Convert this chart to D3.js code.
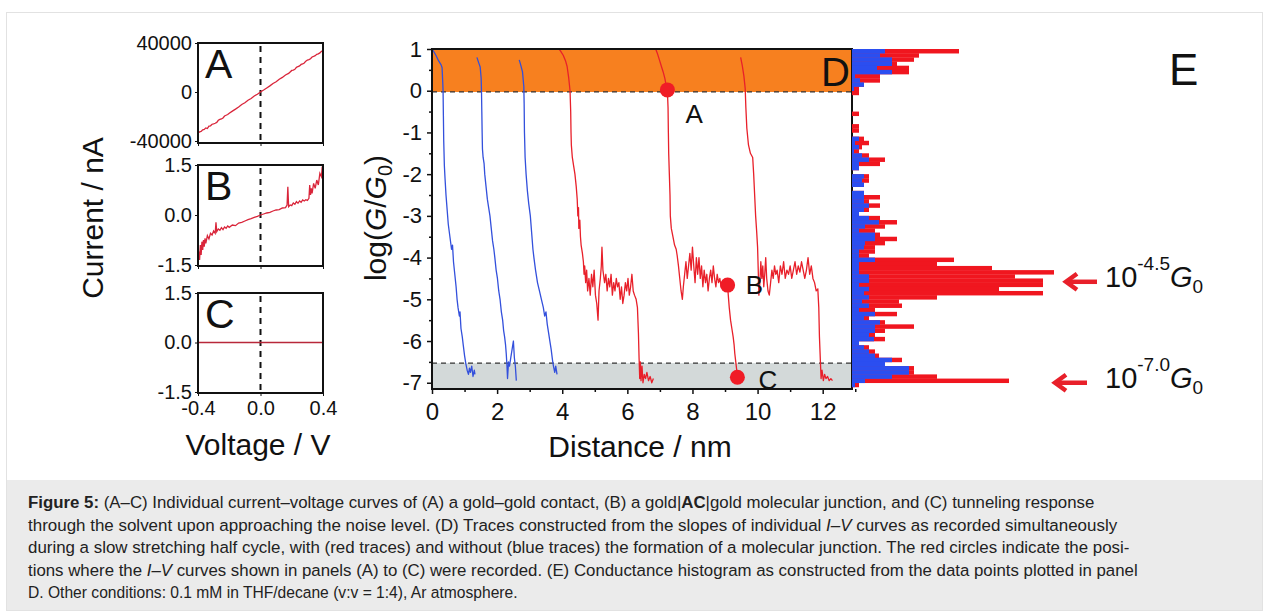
<!DOCTYPE html>
<html><head><meta charset="utf-8">
<script src="https://cdn.jsdelivr.net/npm/d3@7"></script>
<style>
html,body{margin:0;padding:0;background:#fff;}
svg{display:block;font-family:"Liberation Sans",Arial,sans-serif;}
</style></head><body>
<svg id="chart" width="1265" height="612"></svg>
<script>
// ---------------- DATA ----------------
// Panel A: gold-gold contact, current (nA) vs voltage (V)
const ivA = [[-0.4,-33500],[-0.39,-32600],[-0.38,-32200],[-0.37,-30900],[-0.36,-30600],[-0.35,-29300],[-0.34,-29800],[-0.33,-27900],[-0.32,-27600],[-0.31,-26300],[-0.30,-26000],[-0.29,-25500],[-0.28,-24800],[-0.27,-23100],[-0.26,-22400],[-0.25,-22000],[-0.24,-21200],[-0.23,-19600],[-0.22,-19000],[-0.21,-18400],[-0.20,-17300],[-0.18,-15600],[-0.16,-14000],[-0.14,-12300],[-0.12,-10200],[-0.10,-8800],[-0.08,-6700],[-0.06,-5300],[-0.04,-3200],[-0.02,-1800],[0,0],[0.02,1600],[0.04,3300],[0.06,5000],[0.08,6900],[0.10,8300],[0.12,10400],[0.14,11900],[0.16,13900],[0.18,15200],[0.20,17600],[0.21,17900],[0.22,18500],[0.23,20100],[0.24,20800],[0.25,21300],[0.26,22500],[0.27,22900],[0.28,23700],[0.29,25200],[0.30,26100],[0.31,26400],[0.32,27200],[0.33,28600],[0.34,29000],[0.35,29700],[0.36,30800],[0.37,31100],[0.38,31900],[0.39,33200],[0.40,33500]];
// Panel B: gold|AC|gold junction
const ivB = [[-0.40,-1.45],[-0.395,-1.1],[-0.39,-1.35],[-0.385,-0.9],[-0.38,-1.2],[-0.375,-0.8],[-0.37,-1.05],[-0.365,-0.75],[-0.36,-0.95],[-0.355,-0.7],[-0.35,-0.85],[-0.34,-0.62],[-0.33,-0.72],[-0.32,-0.55],[-0.31,-0.6],[-0.30,-0.48],[-0.29,-0.55],[-0.285,-0.22],[-0.28,-0.5],[-0.27,-0.42],[-0.26,-0.46],[-0.25,-0.38],[-0.24,-0.44],[-0.23,-0.36],[-0.22,-0.4],[-0.21,-0.33],[-0.20,-0.37],[-0.18,-0.3],[-0.16,-0.32],[-0.14,-0.24],[-0.12,-0.22],[-0.10,-0.18],[-0.08,-0.14],[-0.06,-0.11],[-0.04,-0.07],[-0.02,-0.04],[0,0],[0.02,0.03],[0.04,0.06],[0.06,0.08],[0.08,0.12],[0.10,0.15],[0.12,0.16],[0.14,0.21],[0.16,0.22],[0.17,0.3],[0.175,0.85],[0.18,0.25],[0.19,0.3],[0.20,0.28],[0.21,0.36],[0.22,0.32],[0.23,0.4],[0.24,0.35],[0.25,0.42],[0.26,0.38],[0.27,0.45],[0.28,0.42],[0.29,0.46],[0.30,0.44],[0.31,0.5],[0.315,0.9],[0.32,0.6],[0.325,0.8],[0.33,0.65],[0.34,0.95],[0.35,0.8],[0.36,1.05],[0.37,0.9],[0.38,1.25],[0.39,1.15],[0.395,1.45],[0.40,1.35]];
// Panel C: tunneling through solvent
const ivC = [[-0.4,0],[-0.2,0],[0,0],[0.2,0],[0.4,0]];
const ivTicksA = [-40000, 0, 40000];
const ivTicksBC = [-1.5, 0, 1.5];
const voltTicks = [-0.4, 0, 0.4];

// Panel D: log(G/G0) vs distance (nm)
const blueTrace1 = [[0.03,0.97],[0.12,0.85],[0.2,0.72],[0.28,0.62],[0.31,0.55],[0.33,0.2],[0.34,0.0],[0.35,-0.6],[0.36,-1.2],[0.38,-1.8],[0.40,-2.1],[0.43,-2.5],[0.47,-2.9],[0.50,-3.2],[0.55,-3.5],[0.60,-3.8],[0.63,-3.7],[0.66,-4.1],[0.70,-4.4],[0.74,-4.7],[0.77,-5.0],[0.80,-5.2],[0.84,-5.4],[0.86,-5.3],[0.89,-5.7],[0.93,-5.9],[0.96,-6.1],[1.0,-6.35],[1.04,-6.55],[1.08,-6.7],[1.12,-6.8],[1.15,-6.65],[1.18,-6.75],[1.22,-6.6],[1.26,-6.85],[1.30,-6.7],[1.32,-6.8]];
const blueTrace2 = [[1.38,0.8],[1.43,0.68],[1.48,0.57],[1.51,0.3],[1.52,0.0],[1.53,-0.5],[1.54,-1.0],[1.55,-1.4],[1.57,-1.6],[1.60,-1.75],[1.62,-2.0],[1.66,-2.3],[1.70,-2.6],[1.74,-2.8],[1.78,-3.0],[1.82,-3.3],[1.86,-3.6],[1.90,-3.8],[1.93,-4.0],[1.97,-4.3],[2.01,-4.5],[2.05,-4.8],[2.09,-5.0],[2.13,-5.3],[2.17,-5.5],[2.20,-5.75],[2.23,-5.9],[2.26,-6.1],[2.28,-6.3],[2.30,-6.55],[2.32,-6.9],[2.35,-6.5],[2.38,-6.6],[2.42,-6.4],[2.46,-6.2],[2.50,-6.0],[2.53,-6.4],[2.56,-6.6],[2.59,-6.95]];
const blueTrace3 = [[2.68,0.74],[2.73,0.6],[2.78,0.45],[2.82,0.1],[2.83,-0.3],[2.84,-1.0],[2.86,-1.6],[2.89,-2.0],[2.93,-2.4],[2.97,-2.7],[3.02,-3.0],[3.06,-3.4],[3.10,-3.8],[3.13,-4.0],[3.18,-4.3],[3.24,-4.6],[3.30,-4.8],[3.36,-5.0],[3.42,-5.2],[3.46,-5.4],[3.50,-5.3],[3.54,-5.6],[3.58,-5.8],[3.62,-6.0],[3.66,-6.2],[3.70,-6.45],[3.73,-6.6],[3.77,-6.75],[3.80,-6.6],[3.84,-6.8]];
const redTrace1 = [[3.88,1.02],[3.95,0.95],[4.03,0.85],[4.10,0.72],[4.15,0.58],[4.20,0.3],[4.24,0.0],[4.26,-0.5],[4.27,-1.0],[4.28,-1.3],[4.31,-1.6],[4.35,-1.8],[4.39,-2.0],[4.43,-2.3],[4.46,-2.6],[4.48,-3.0],[4.50,-2.8],[4.51,-3.3],[4.54,-3.1],[4.56,-3.5],[4.58,-3.7],[4.62,-3.9],[4.65,-4.1],[4.67,-4.4],[4.69,-4.2],[4.72,-4.6],[4.75,-4.3],[4.78,-4.8],[4.82,-4.5],[4.86,-4.9],[4.90,-4.4],[4.94,-4.7],[4.98,-4.3],[5.02,-4.9],[5.06,-5.1],[5.10,-5.5],[5.13,-4.8],[5.17,-4.5],[5.20,-4.2],[5.22,-3.75],[5.25,-4.3],[5.30,-4.6],[5.34,-4.4],[5.38,-4.8],[5.42,-4.5],[5.46,-4.7],[5.50,-4.4],[5.54,-4.9],[5.58,-4.6],[5.62,-4.8],[5.66,-4.5],[5.70,-4.7],[5.74,-4.6],[5.78,-5.0],[5.82,-4.7],[5.86,-5.1],[5.90,-4.9],[5.94,-4.6],[5.98,-4.8],[6.02,-4.5],[6.06,-4.9],[6.10,-4.7],[6.14,-4.4],[6.18,-4.8],[6.22,-4.9],[6.27,-5.0],[6.31,-5.2],[6.34,-5.8],[6.36,-6.4],[6.38,-6.9],[6.40,-6.5],[6.42,-6.95],[6.45,-6.6],[6.48,-7.0],[6.52,-6.8],[6.56,-6.9],[6.60,-6.75],[6.65,-6.95],[6.70,-6.85],[6.75,-7.0],[6.80,-6.9]];
const redTrace2 = [[6.86,1.02],[6.92,0.9],[6.98,0.75],[7.04,0.6],[7.10,0.45],[7.15,0.3],[7.20,0.1],[7.23,0.0],[7.25,-0.4],[7.26,-1.0],[7.27,-1.5],[7.29,-2.0],[7.31,-2.5],[7.32,-3.0],[7.35,-3.3],[7.40,-3.5],[7.45,-3.7],[7.50,-3.8],[7.53,-3.95],[7.57,-4.2],[7.61,-4.5],[7.65,-4.8],[7.69,-5.0],[7.72,-4.7],[7.76,-4.4],[7.80,-4.1],[7.84,-4.5],[7.88,-4.2],[7.92,-3.9],[7.96,-4.3],[8.00,-3.75],[8.04,-4.2],[8.08,-4.6],[8.12,-4.0],[8.16,-4.4],[8.20,-4.0],[8.24,-4.5],[8.28,-4.2],[8.32,-4.7],[8.36,-4.3],[8.40,-4.6],[8.44,-4.4],[8.48,-4.8],[8.52,-4.5],[8.56,-4.3],[8.60,-4.6],[8.64,-4.2],[8.68,-4.5],[8.72,-4.7],[8.76,-4.4],[8.80,-4.6],[8.84,-4.5],[8.88,-4.7],[8.92,-4.6],[8.96,-4.65],[9.00,-4.7],[9.04,-4.65],[9.08,-4.66],[9.10,-4.9],[9.13,-5.2],[9.17,-5.5],[9.21,-5.7],[9.25,-5.9],[9.28,-6.1],[9.30,-6.3],[9.33,-6.5],[9.36,-6.7],[9.38,-6.87]];
const redTrace3 = [[9.48,0.8],[9.53,0.6],[9.58,0.35],[9.62,0.05],[9.64,-0.4],[9.67,-0.9],[9.72,-1.3],[9.78,-1.5],[9.85,-1.6],[9.88,-2.0],[9.91,-2.5],[9.94,-3.0],[9.97,-3.35],[10.0,-3.75],[10.02,-4.3],[10.04,-4.9],[10.07,-4.6],[10.10,-4.1],[10.13,-4.5],[10.16,-4.2],[10.19,-4.7],[10.22,-4.4],[10.25,-4.0],[10.28,-4.5],[10.32,-4.8],[10.36,-4.9],[10.40,-4.6],[10.44,-4.3],[10.48,-4.5],[10.52,-4.2],[10.56,-4.4],[10.60,-4.3],[10.65,-4.6],[10.70,-4.2],[10.75,-4.4],[10.80,-4.1],[10.85,-4.5],[10.90,-4.3],[10.95,-4.4],[11.00,-4.2],[11.05,-4.5],[11.10,-4.3],[11.15,-4.1],[11.20,-4.4],[11.25,-4.2],[11.30,-4.35],[11.35,-4.1],[11.40,-4.3],[11.45,-4.5],[11.50,-4.3],[11.55,-4.0],[11.60,-4.4],[11.65,-4.2],[11.70,-4.5],[11.75,-4.6],[11.80,-4.8],[11.85,-4.75],[11.88,-5.2],[11.90,-5.9],[11.93,-6.5],[11.95,-6.9],[11.98,-6.7],[12.02,-6.95],[12.06,-6.8],[12.10,-6.9],[12.15,-6.85],[12.20,-6.95],[12.25,-6.9],[12.30,-6.95]];
const blueTraces = [blueTrace1, blueTrace2, blueTrace3];
const redTraces = [redTrace1, redTrace2, redTrace3];
const ivPoints = [{label:"A", d:7.23, g:0.02}, {label:"B", d:9.08, g:-4.66}, {label:"C", d:9.38, g:-6.87}];
const distTicks = [0, 2, 4, 6, 8, 10, 12];
const logTicks = [-7, -6, -5, -4, -3, -2, -1, 0, 1];
const contactBand = [-0.03, 1];     // orange: metallic contact region
const noiseBand = [-7.15, -6.53];   // gray: noise level region

// Panel E: conductance histogram (bins of 0.1 in log(G/G0), from 1.0 downwards)
const histBinStart = 1.0, histBinWidth = 0.1;
const histRed = [107,67,62,45,57,57,28,28,12,7,7,0,0,0,0,7,0,0,7,7,0,12,17,10,7,17,33,28,7,0,17,17,12,0,12,28,17,28,17,7,28,45,33,23,28,45,33,23,23,17,102,85,140,202,163,191,191,147,191,85,47,50,23,45,17,33,62,33,23,33,7,17,23,27,50,33,62,62,85,157,7];
const histBlue = [33,28,40,40,25,40,3,8,12,2,0,0,0,0,0,0,0,0,0,0,0,7,3,7,2,10,17,7,7,0,12,10,12,0,12,12,12,17,12,7,17,27,13,7,23,23,13,12,7,7,23,7,7,7,17,17,7,17,12,17,10,17,7,23,12,28,23,23,17,22,7,12,17,23,40,33,57,57,40,13,3];
const histPeaks = [{exp:"-4.5", level:-4.58}, {exp:"-7.0", level:-7.0}];

const captionLines = [
  [["Figure 5:","b"],[" (A–C) Individual current–voltage curves of (A) a gold–gold contact, (B) a gold|",""],["AC","b"],["|gold molecular junction, and (C) tunneling response",""]],
  [["through the solvent upon approaching the noise level. (D) Traces constructed from the slopes of individual ",""],["I–V","i"],[" curves as recorded simultaneously",""]],
  [["during a slow stretching half cycle, with (red traces) and without (blue traces) the formation of a molecular junction. The red circles indicate the posi-",""]],
  [["tions where the ",""],["I–V","i"],[" curves shown in panels (A) to (C) were recorded. (E) Conductance histogram as constructed from the data points plotted in panel",""]],
  [["D. Other conditions: 0.1 mM in THF/decane (v:v = 1:4), Ar atmosphere.",""]]
];
const captionEnds = [1095, 1118, 1130, 1138, 518];

// ---------------- DRAW ----------------
const svg = d3.select("#chart");
const RED = "#e8202a", BLUE = "#3350dc";

svg.append("rect").attr("x",6.5).attr("y",12.5).attr("width",1256).attr("height",598)
  .attr("fill","none").attr("stroke","#e2e2e2");
svg.append("rect").attr("x",7).attr("y",480).attr("width",1255).attr("height",130).attr("fill","#ebebeb");

// ----- Panels A-C -----
const vx = d3.scaleLinear().domain([-0.4,0.4]).range([198,323]);
const panels = [
  {name:"A", data:ivA, domain:[-40000,40000], range:[141,43], top:43, bottom:143, ticks:ivTicksA, fmt:d=>String(d), xlab:false},
  {name:"B", data:ivB, domain:[-1.5,1.5], range:[265,165], top:165, bottom:266, ticks:ivTicksBC, fmt:d=>d.toFixed(1), xlab:false},
  {name:"C", data:ivC, domain:[-1.5,1.5], range:[392,293], top:293, bottom:393, ticks:ivTicksBC, fmt:d=>d.toFixed(1), xlab:true}
];
panels.forEach((p,i) => {
  const y = d3.scaleLinear().domain(p.domain).range(p.range);
  const g = svg.append("g");
  const cid = "clip"+p.name;
  svg.append("clipPath").attr("id",cid).append("rect")
    .attr("x",vx.range()[0]).attr("y",p.top).attr("width",vx.range()[1]-vx.range()[0]).attr("height",p.bottom-p.top);
  g.append("line").attr("x1",vx(0)).attr("x2",vx(0)).attr("y1",p.top+3).attr("y2",p.bottom)
    .attr("stroke","#111").attr("stroke-width",2).attr("stroke-dasharray","6,5");
  g.append("path").datum(p.data).attr("clip-path",`url(#${cid})`)
    .attr("d", d3.line().x(d=>vx(d[0])).y(d=>y(d[1])))
    .attr("fill","none").attr("stroke", p.name==="C" ? "#b8283a" : "#d9253a").attr("stroke-width",1.3);
  g.append("rect").attr("x",vx.range()[0]).attr("y",p.top).attr("width",vx.range()[1]-vx.range()[0]).attr("height",p.bottom-p.top)
    .attr("fill","none").attr("stroke","#111").attr("stroke-width",2);
  const ya = g.append("g").attr("transform",`translate(${vx.range()[0]},0)`)
    .call(d3.axisLeft(y).tickValues(p.ticks).tickFormat(p.fmt).tickSize(3).tickPadding(3).tickSizeOuter(0));
  ya.select(".domain").remove();
  ya.selectAll("text").attr("font-size",20).attr("fill","#111").attr("font-family","Liberation Sans, Arial, sans-serif");
  ya.selectAll("line").attr("stroke","#111");
  const xa = g.append("g").attr("transform",`translate(0,${p.bottom})`)
    .call(d3.axisBottom(vx).tickValues(voltTicks).tickFormat(p.xlab ? (d=>d.toFixed(1)) : "").tickSize(3).tickPadding(5).tickSizeOuter(0));
  xa.select(".domain").remove();
  xa.selectAll("text").attr("font-size",20).attr("fill","#111").attr("font-family","Liberation Sans, Arial, sans-serif");
  xa.selectAll("line").attr("stroke","#111");
  g.append("text").attr("x",vx.range()[0]+7).attr("y",p.top+35).attr("font-size",41).attr("fill","#111").text(p.name);
});
svg.append("text").attr("transform","translate(103,218) rotate(-90)").attr("text-anchor","middle")
  .attr("font-size",30).attr("fill","#111").text("Current / nA");
svg.append("text").attr("x",258).attr("y",455).attr("text-anchor","middle")
  .attr("font-size",30).attr("fill","#111").text("Voltage / V");

// ----- Panel D -----
const x = d3.scaleLinear().domain([0,12.9]).range([432,852]);
const y = d3.scaleLinear().domain([-7.15,1]).range([389,49]);
const gD = svg.append("g");
svg.append("clipPath").attr("id","clipD").append("rect")
  .attr("x",x.range()[0]).attr("y",y.range()[1]).attr("width",x.range()[1]-x.range()[0]).attr("height",y.range()[0]-y.range()[1]);
gD.append("rect").attr("x",x.range()[0]).attr("width",x.range()[1]-x.range()[0])
  .attr("y",y(contactBand[1])).attr("height",y(contactBand[0])-y(contactBand[1])).attr("fill","#f7801f");
gD.append("rect").attr("x",x.range()[0]).attr("width",x.range()[1]-x.range()[0])
  .attr("y",y(noiseBand[1])).attr("height",y(noiseBand[0])-y(noiseBand[1])).attr("fill","#d3d9d9");
[contactBand[0], noiseBand[1]].forEach(v => {
  gD.append("line").attr("x1",x.range()[0]).attr("x2",x.range()[1]).attr("y1",y(v)).attr("y2",y(v))
    .attr("stroke","#333").attr("stroke-width",1.3).attr("stroke-dasharray","5,4");
});
const line = d3.line().x(d=>x(d[0])).y(d=>y(d[1]));
const tg = gD.append("g").attr("clip-path","url(#clipD)");
blueTraces.forEach(t => tg.append("path").datum(t).attr("d",line).attr("fill","none").attr("stroke",BLUE).attr("stroke-width",1.3).attr("stroke-linejoin","round"));
redTraces.forEach(t => tg.append("path").datum(t).attr("d",line).attr("fill","none").attr("stroke",RED).attr("stroke-width",1.3).attr("stroke-linejoin","round"));

// ----- Panel E histogram -----
const hx = d3.scaleLinear().domain([0,210]).range([852,1062]);
const bins = histRed.map((r,i) => ({top: histBinStart - histBinWidth*i, red:r, blue:histBlue[i]}));
const gE = svg.append("g");
gE.selectAll("rect.r").data(bins).join("rect").attr("class","r")
  .attr("x",hx(0)).attr("y",d=>y(d.top)).attr("width",d=>hx(d.red)-hx(0))
  .attr("height",d=>y(d.top-histBinWidth)-y(d.top)+0.3).attr("fill","#f0161f");
gE.selectAll("rect.b").data(bins).join("rect").attr("class","b")
  .attr("x",hx(0)).attr("y",d=>y(d.top)).attr("width",d=>hx(d.blue)-hx(0))
  .attr("height",d=>y(d.top-histBinWidth)-y(d.top)+0.3).attr("fill","#2b4ef0");

// D box and axes
gD.append("rect").attr("x",x.range()[0]).attr("y",y.range()[1]).attr("width",x.range()[1]-x.range()[0]).attr("height",y.range()[0]-y.range()[1])
  .attr("fill","none").attr("stroke","#111").attr("stroke-width",2);
const yAx = gD.append("g").attr("transform",`translate(${x.range()[0]},0)`)
  .call(d3.axisLeft(y).tickValues(logTicks).tickFormat(d=>String(d)).tickSize(5).tickPadding(5).tickSizeOuter(0));
yAx.select(".domain").remove();
yAx.selectAll("text").attr("font-size",22).attr("fill","#111").attr("font-family","Liberation Sans, Arial, sans-serif");
const yMinor = gD.append("g").attr("transform",`translate(${x.range()[0]},0)`)
  .call(d3.axisLeft(y).tickValues(logTicks.slice(0,-1).map(v=>v+0.5)).tickFormat("").tickSize(3).tickSizeOuter(0));
yMinor.select(".domain").remove();
const xAx = gD.append("g").attr("transform",`translate(0,${y.range()[0]})`)
  .call(d3.axisBottom(x).tickValues(distTicks).tickFormat(d=>String(d)).tickSize(5).tickPadding(9).tickSizeOuter(0));
xAx.select(".domain").remove();
xAx.selectAll("text").attr("font-size",24).attr("fill","#111").attr("font-family","Liberation Sans, Arial, sans-serif");
const xMinor = gD.append("g").attr("transform",`translate(0,${y.range()[0]})`)
  .call(d3.axisBottom(x).tickValues(distTicks.map(v=>v+1)).tickFormat("").tickSize(3).tickSizeOuter(0));
xMinor.select(".domain").remove();
gD.selectAll(".tick line").attr("stroke","#111").attr("stroke-width",1.5);

// red circles with labels
const lblOff = {A:[18,33], B:[18,9], C:[21,12]};
ivPoints.forEach(p => {
  gD.append("circle").attr("cx",x(p.d)).attr("cy",y(p.g)).attr("r",7.5).attr("fill","#f01c26");
  gD.append("text").attr("x",x(p.d)+lblOff[p.label][0]).attr("y",y(p.g)+lblOff[p.label][1])
    .attr("font-size",26).attr("fill","#111").text(p.label);
});
gD.append("text").attr("x",850).attr("y",86).attr("text-anchor","end").attr("font-size",40).attr("fill","#111").text("D");
svg.append("text").attr("x",1169).attr("y",85).attr("font-size",44).attr("fill","#111").text("E");

// axis titles D
const yl = svg.append("text").attr("transform","translate(386,218) rotate(-90)").attr("text-anchor","middle")
  .attr("font-size",30).attr("fill","#111");
yl.append("tspan").text("log(");
yl.append("tspan").attr("font-style","italic").text("G");
yl.append("tspan").text("/");
yl.append("tspan").attr("font-style","italic").text("G");
yl.append("tspan").attr("font-size",20).attr("dy",6).text("0");
yl.append("tspan").attr("dy",-6).text(")");
svg.append("text").attr("x",640).attr("y",457).attr("text-anchor","middle")
  .attr("font-size",30).attr("fill","#111").text("Distance / nm");

// arrows + labels for histogram peaks
const arrowX = [[1097,1065],[1087,1054]];
histPeaks.forEach((p,i) => {
  const yy = y(p.level);
  const [x1,x2] = arrowX[i];
  svg.append("line").attr("x1",x1).attr("x2",x2+4).attr("y1",yy).attr("y2",yy).attr("stroke",RED).attr("stroke-width",4.5);
  svg.append("path").attr("d",`M${x2+12},${yy-8} L${x2+1},${yy} L${x2+12},${yy+8}`)
    .attr("fill","none").attr("stroke",RED).attr("stroke-width",4.5).attr("stroke-linejoin","miter");
  const t = svg.append("text").attr("x",1105).attr("y",yy+5).attr("font-size",29).attr("fill","#111");
  t.append("tspan").text("10");
  t.append("tspan").attr("font-size",19).attr("dy",-17).text(p.exp);
  t.append("tspan").attr("font-style","italic").attr("dy",17).text("G");
  t.append("tspan").attr("font-size",19).attr("dy",6).text("0");
});

// caption
const base0 = 508, lh = 22.5;
captionLines.forEach((segs,i) => {
  const t = svg.append("text").attr("x",0).attr("y",0).attr("font-size",17).attr("fill","#222")
    .attr("transform",`translate(28,${base0+i*lh})`);
  segs.forEach(s => {
    const ts = t.append("tspan").text(s[0]);
    if (s[1]==="b") ts.attr("font-weight","bold");
    if (s[1]==="i") ts.attr("font-style","italic");
  });
  const w = t.node().getComputedTextLength();
  const sx = (captionEnds[i]-28)/w;
  t.attr("transform",`translate(28,${base0+i*lh}) scale(${sx},1)`);
});
</script></body></html>
